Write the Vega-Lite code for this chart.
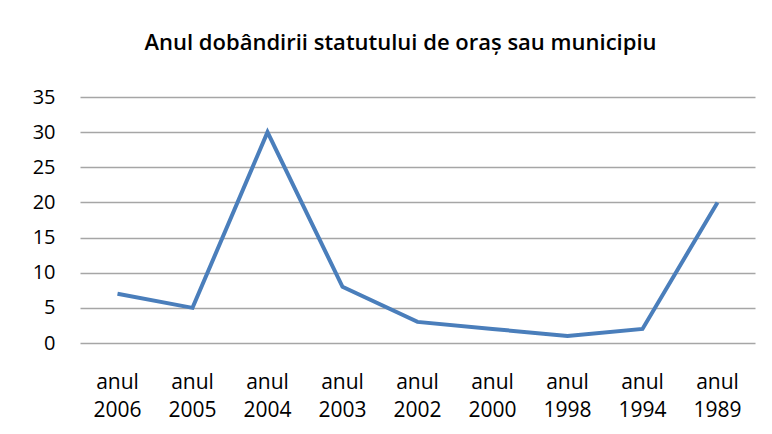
{
  "$schema": "https://vega.github.io/schema/vega-lite/v6.json",
  "width": 675,
  "height": 246,
  "autosize": "none",
  "padding": {"left": 80, "top": 97, "right": 17, "bottom": 91},
  "background": "white",
  "title": {
    "text": "Anul dobândirii statutului de oraș sau municipiu",
    "font": "Open Sans",
    "fontSize": 22,
    "fontWeight": 600,
    "color": "#000000",
    "anchor": "middle",
    "dx": -17,
    "offset": 32
  },
  "data": {
    "values": [
      {"an": "anul 2006", "valoare": 7},
      {"an": "anul 2005", "valoare": 5},
      {"an": "anul 2004", "valoare": 30},
      {"an": "anul 2003", "valoare": 8},
      {"an": "anul 2002", "valoare": 3},
      {"an": "anul 2000", "valoare": 2},
      {"an": "anul 1998", "valoare": 1},
      {"an": "anul 1994", "valoare": 2},
      {"an": "anul 1989", "valoare": 20}
    ]
  },
  "mark": {"type": "line", "color": "#4a7ebb", "strokeWidth": 4, "strokeJoin": "miter"},
  "encoding": {
    "x": {
      "field": "an",
      "type": "ordinal",
      "sort": null,
      "scale": {"type": "band", "paddingInner": 0, "paddingOuter": 0},
      "axis": {
        "title": null,
        "labelExpr": "split(datum.label, ' ')",
        "labelAngle": 0,
        "labelFont": "Open Sans",
        "labelFontSize": 21,
        "labelColor": "#000000",
        "labelLineHeight": 28,
        "labelPadding": 28,
        "ticks": false,
        "domain": false,
        "grid": false
      }
    },
    "y": {
      "field": "valoare",
      "type": "quantitative",
      "scale": {"domain": [0, 35], "nice": false},
      "axis": {
        "title": null,
        "values": [0, 5, 10, 15, 20, 25, 30, 35],
        "labelFont": "Open Sans",
        "labelFontSize": 20,
        "labelColor": "#000000",
        "labelPadding": 25,
        "ticks": false,
        "domain": false,
        "grid": true,
        "gridColor": "#a6a6a6",
        "gridWidth": 1.3
      }
    }
  },
  "config": {"view": {"stroke": null}}
}
